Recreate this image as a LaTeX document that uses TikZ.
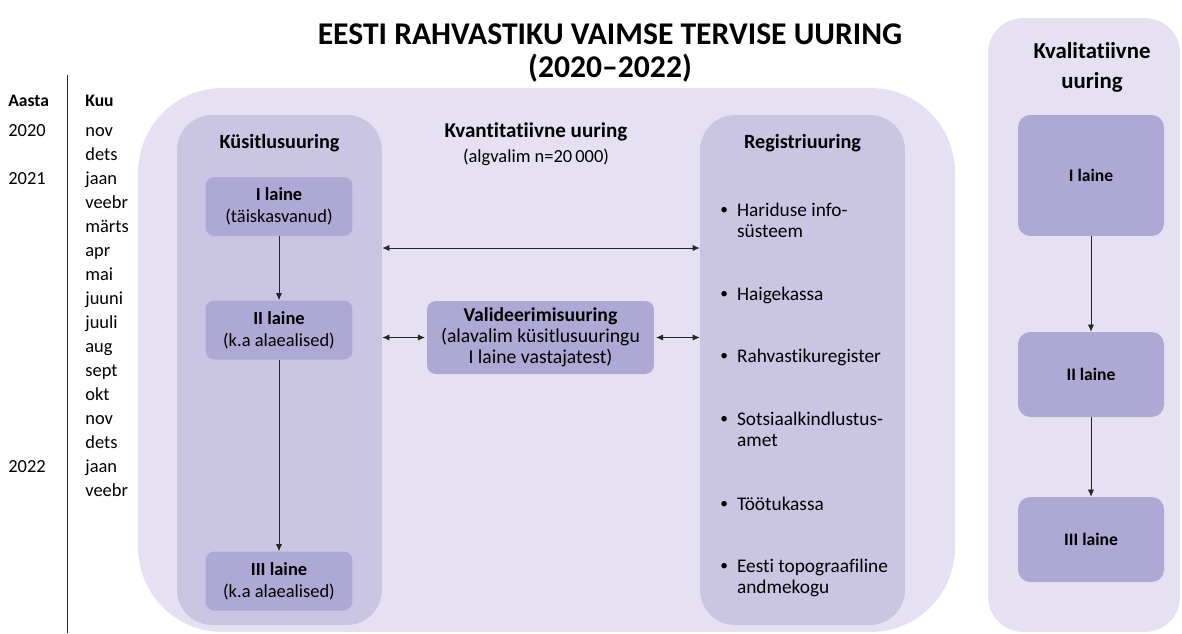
\documentclass[tikz,border=0pt]{standalone}
\usepackage{fontspec}
\setmainfont[Ligatures=NoCommon]{Carlito}
\usetikzlibrary{arrows.meta}
\definecolor{lightlav}{RGB}{230,225,242}
\definecolor{midlav}{RGB}{202,197,227}
\definecolor{darklav}{RGB}{174,168,213}
\tikzset{%
  panel/.style  = {shape=rectangle, rounded corners=48pt, fill=lightlav},%
  column/.style = {shape=rectangle, rounded corners=20pt, fill=midlav,%
                   minimum width=4.1cm, minimum height=10.2cm},%
  wave/.style   = {shape=rectangle, rounded corners=5pt, fill=darklav, align=center,%
                   minimum width=2.94cm},%
  qwave/.style  = {wave, rounded corners=7pt, minimum width=2.92cm, font=\bfseries},%
  header/.style = {font=\fontsize{11.5pt}{14pt}\selectfont\bfseries, align=center},%
  item/.style   = {anchor=base west, font=\fontsize{11pt}{12.5pt}\selectfont},%
  link/.style   = {-{Latex[length=4pt,width=3.5pt]}, thin, black!85},%
  both/.style   = {{Latex[length=4pt,width=3.5pt]}-{Latex[length=4pt,width=3.5pt]}, thin, black!85}%
}
\newcommand{\dotmark}{\raisebox{0.6pt}{\scalebox{0.8}{\textbullet}}}
\begin{document}
\begin{tikzpicture}[x=0.02cm,y=-0.02cm,
    every node/.style = {font=\fontsize{10.5pt}{12.6pt}\selectfont, inner sep=0pt}]
  \useasboundingbox (0,0) rectangle (1182,633);
  % background panels
  \node[panel, minimum width=16.34cm, minimum height=10.88cm] (kvant) at (546.5,360) {};
  \node[panel, rounded corners=20pt, minimum width=3.84cm, minimum height=12.28cm] (kval) at (1084,325) {};
  \node[column] (kysit) at (279.5,370) {};
  \node[column] (reg) at (802.5,370) {};

  \node[font=\fontsize{18pt}{18.7pt}\selectfont\bfseries, align=center] (title) at (610,53)
    {EESTI RAHVASTIKU VAIMSE TERVISE UURING\\(2020--2022)};

  % time axis
  \coordinate (axtop) at (67,75);
  \coordinate (axbot) at (67,633);
  \draw[black!85] (axtop) -- (axbot);
  \node[anchor=base west, font=\bfseries] (aasta) at (8,106) {Aasta};
  \node[anchor=base west, font=\bfseries] (kuu) at (85,106) {Kuu};
  \foreach \m [count=\i] in {nov,dets,jaan,veebr,märts,apr,mai,juuni,juuli,aug,sept,okt,nov,dets,jaan,veebr}
    \node[anchor=base west] (m\i) at (85,112+24*\i) {\m};
  \node[anchor=base west] (y20) at (8,136) {2020};
  \node[anchor=base west] (y21) at (8,184) {2021};
  \node[anchor=base west] (y22) at (8,472) {2022};

  % kvantitatiivne uuring
  \node[header, font=\fontsize{12pt}{14pt}\selectfont\bfseries] (kvtitle) at (536,132) {Kvantitatiivne uuring};
  \node (algvalim) at (536,157) {(algvalim n=20\,000)};
  \node[header] (kytitle) at (279.5,143) {Küsitlusuuring};
  \node[header] (regtitle) at (802.5,143) {Registriuuring};

  \node[wave, minimum height=1.18cm] (k1) at (279,206.5) {\textbf{I laine}\\(täiskasvanud)};
  \node[wave, minimum height=1.18cm] (k2) at (279,330) {\textbf{II laine}\\(k.a alaealised)};
  \node[wave, minimum height=1.18cm] (k3) at (279,581) {\textbf{III laine}\\(k.a alaealised)};
  \node[wave, minimum width=4.54cm, minimum height=1.46cm, font=\fontsize{11.2pt}{12pt}\selectfont] (valid) at (540.5,337.5)
    {\textbf{Valideerimisuuring}\\(alavalim küsitlusuuringu\\I laine vastajatest)};

  \node[item] (r1) at (720,216) {\begin{tabular}[t]{@{}p{9.5pt}@{}l@{}}\dotmark & Hariduse info-\\ & süsteem\end{tabular}};
  \node[item] (r2) at (720,300) {\begin{tabular}[t]{@{}p{9.5pt}@{}l@{}}\dotmark & Haigekassa\end{tabular}};
  \node[item] (r3) at (720,362) {\begin{tabular}[t]{@{}p{9.5pt}@{}l@{}}\dotmark & Rahvastikuregister\end{tabular}};
  \node[item] (r4) at (720,425) {\begin{tabular}[t]{@{}p{9.5pt}@{}l@{}}\dotmark & Sotsiaalkindlustus-\\ & amet\end{tabular}};
  \node[item] (r5) at (720,510) {\begin{tabular}[t]{@{}p{9.5pt}@{}l@{}}\dotmark & Töötukassa\end{tabular}};
  \node[item] (r6) at (720,572) {\begin{tabular}[t]{@{}p{9.5pt}@{}l@{}}\dotmark & Eesti topograafiline\\ & andmekogu\end{tabular}};

  \draw[link] (k1) -- (k2);
  \draw[link] (k2) -- (k3);
  \coordinate (linkrow) at (540,248);
  \draw[both] (kysit.east |- linkrow) -- (reg.west |- linkrow);
  \draw[both] (kysit.east |- valid.west) -- ([xshift=-1pt]valid.west);
  \draw[both] ([xshift=1pt]valid.east) -- (reg.west |- valid.east);

  % kvalitatiivne uuring
  \node[header, font=\fontsize{13pt}{17pt}\selectfont\bfseries] (qtitle) at (1092,67) {Kvalitatiivne\\uuring};
  \node[qwave, minimum height=2.42cm] (q1) at (1091,175.5) {I laine};
  \node[qwave, minimum height=1.7cm] (q2) at (1091,374.5) {II laine};
  \node[qwave, minimum height=1.7cm] (q3) at (1091,539.5) {III laine};
  \draw[link] (q1) -- (q2);
  \draw[link] (q2) -- (q3);
\end{tikzpicture}
\end{document}
